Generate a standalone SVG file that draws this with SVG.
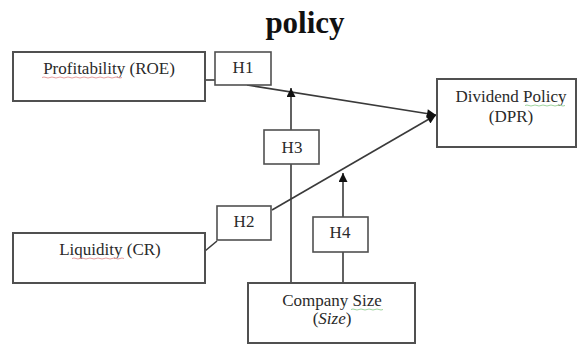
<svg xmlns="http://www.w3.org/2000/svg" width="577" height="345" viewBox="0 0 577 345">
<defs>
<marker id="ah" viewBox="0 0 10 10" refX="10" refY="5" markerWidth="10" markerHeight="9" markerUnits="userSpaceOnUse" orient="auto">
<path d="M0,0 L10,5 L0,10 Z" fill="#111"/>
</marker>
</defs>
<style>
.box{fill:#fff;stroke:#505050;stroke-width:2}
.hbox{fill:#fff;stroke:#505050;stroke-width:1.6}
.t{font-family:"Liberation Serif","Times New Roman",serif;font-size:17px;fill:#2a2a2a;text-anchor:middle}
.c{fill:none;stroke:#3a3a3a;stroke-width:1.6}
.sp{stroke:#e8a0a0;stroke-width:1;fill:none}
.sg{stroke:#9fd49f;stroke-width:1;fill:none}
</style>
<rect width="577" height="345" fill="#fff"/>
<text x="305" y="33" style="font-family:'Liberation Serif','Times New Roman',serif;font-size:31px;font-weight:bold;fill:#111" text-anchor="middle">policy</text>

<g id="connectors">
<line class="c" x1="205" y1="80" x2="215" y2="80"/>
<line class="c" x1="205" y1="251" x2="217" y2="241"/>
<line class="c" x1="247" y1="85" x2="436" y2="115" marker-end="url(#ah)"/>
<line class="c" x1="272" y1="210" x2="436" y2="115" marker-end="url(#ah)"/>
<line class="c" x1="291" y1="283" x2="291" y2="164"/>
<line class="c" x1="291" y1="130" x2="291" y2="88" marker-end="url(#ah)"/>
<line class="c" x1="343" y1="283" x2="343" y2="252"/>
<line class="c" x1="343" y1="217" x2="343" y2="173" marker-end="url(#ah)"/>
</g>

<g id="profitability">
<rect class="box" x="13" y="52" width="192" height="49"/>
<text class="t" x="109" y="74">Profitability (ROE)</text>
<path class="sp" d="M42,77.5 q2,-1 4,0 t4,0 t4,0 t4,0 t4,0 t4,0 t4,0 t4,0 t4,0 t4,0 t4,0 t4,0 t4,0 t4,0 t4,0 t4,0 t4,0 t4,0 t4,0 t4,0"/>
</g>
<g id="liquidity">
<rect class="box" x="13" y="233" width="192" height="50"/>
<text class="t" x="110" y="255">Liquidity (CR)</text>
<path class="sp" d="M72,258.5 q2,-1 4,0 t4,0 t4,0 t4,0 t4,0 t4,0 t4,0 t4,0 t4,0 t4,0 t4,0 t4,0 t4,0"/>
</g>
<g id="dpr">
<rect class="box" x="437" y="79" width="139" height="68"/>
<text class="t" x="511" y="102">Dividend Policy</text>
<text class="t" x="511" y="122">(DPR)</text>
<path class="sg" d="M525,105.5 q2,-1 4,0 t4,0 t4,0 t4,0 t4,0 t4,0 t4,0 t4,0 t4,0 t4,0"/>
</g>
<g id="size">
<rect class="box" x="248" y="283" width="167" height="60"/>
<text class="t" x="332" y="306">Company Size</text>
<text class="t" x="332" y="324">(<tspan font-style="italic">Size</tspan>)</text>
<path class="sg" d="M351,309.5 q2,-1 4,0 t4,0 t4,0 t4,0 t4,0 t4,0 t4,0 t4,0"/>
</g>
<g id="h1">
<rect class="hbox" x="215" y="52" width="56" height="33"/>
<text class="t" x="243" y="73">H1</text>
</g>
<g id="h2">
<rect class="hbox" x="217" y="206" width="54" height="34"/>
<text class="t" x="244" y="227">H2</text>
</g>
<g id="h3">
<rect class="hbox" x="264" y="130" width="55" height="34"/>
<text class="t" x="292" y="153">H3</text>
</g>
<g id="h4">
<rect class="hbox" x="313" y="217" width="55" height="35"/>
<text class="t" x="340" y="238">H4</text>
</g>
</svg>
